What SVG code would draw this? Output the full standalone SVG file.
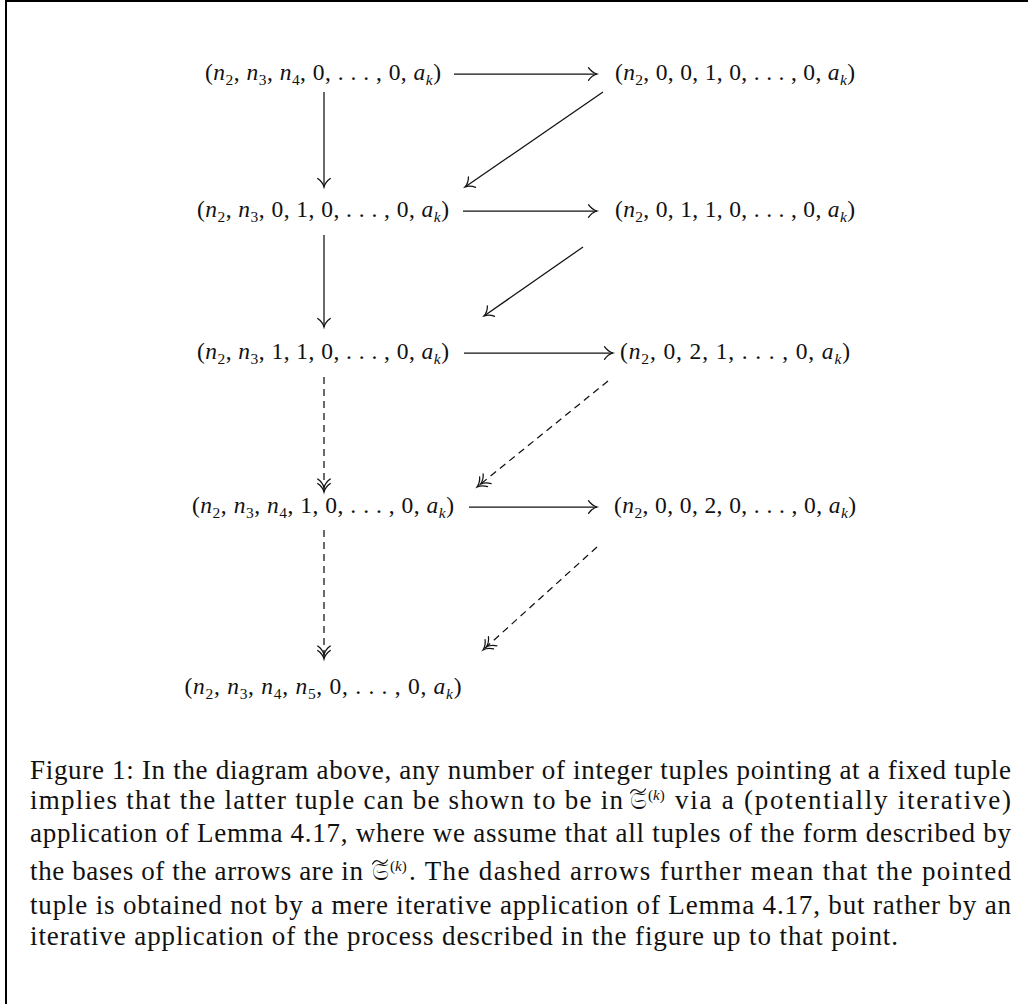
<svg xmlns="http://www.w3.org/2000/svg" width="1028" height="1004" viewBox="0 0 1028 1004">
<style>
.m{font-family:"Liberation Serif","DejaVu Serif",serif;font-size:23.5px;fill:#111}
.i{font-style:italic}
.s{font-size:15.5px}
.c{font-family:"Liberation Serif","DejaVu Serif",serif;font-size:27px;fill:#111}
.fr{font-family:"DejaVu Serif","DejaVu Sans","Noto Sans",serif;font-size:24px;fill:#111}
.sup{font-family:"Liberation Serif","DejaVu Serif",serif;font-size:15px}
.ln{fill:none;stroke:#111;stroke-width:1.25}
.d{stroke-dasharray:7 5}
.acc{fill:none;stroke:#111;stroke-width:1.2;stroke-linecap:round}
.frame{fill:none;stroke:#000;stroke-width:2}
</style>
<defs>
<marker id="to" markerUnits="userSpaceOnUse" viewBox="-12 -8 14 16" refX="0" refY="0" markerWidth="14" markerHeight="16" orient="auto" overflow="visible">
<path d="M-8.5,-6.3 C-6,-2.6 -2.6,-0.7 0,0 C-2.6,0.7 -6,2.6 -8.5,6.3" fill="none" stroke="#111" stroke-width="1.25" stroke-linecap="round" stroke-dasharray="none"/>
</marker>
<marker id="two" markerUnits="userSpaceOnUse" viewBox="-16 -8 18 16" refX="0" refY="0" markerWidth="18" markerHeight="16" orient="auto" overflow="visible">
<path d="M-8.5,-6.3 C-6,-2.6 -2.6,-0.7 0,0 C-2.6,0.7 -6,2.6 -8.5,6.3 M-13,-6.3 C-10.5,-2.6 -7.1,-0.7 -4.5,0 C-7.1,0.7 -10.5,2.6 -13,6.3" fill="none" stroke="#111" stroke-width="1.25" stroke-linecap="round" stroke-dasharray="none"/>
</marker>
</defs>
<rect width="1028" height="1004" fill="#fff"/>
<path class="frame" d="M6,1004 V1 H1028"/>

<g id="n-r1-left"><text class="m" x="323" y="80" text-anchor="middle" textLength="236" lengthAdjust="spacing">(<tspan class="i">n</tspan><tspan class="s" dy="4.5">2</tspan><tspan dy="-4.5">, </tspan><tspan class="i">n</tspan><tspan class="s" dy="4.5">3</tspan><tspan dy="-4.5">, </tspan><tspan class="i">n</tspan><tspan class="s" dy="4.5">4</tspan><tspan dy="-4.5">, 0, . . . , 0, </tspan><tspan class="i">a</tspan><tspan class="s i" dy="4.5">k</tspan><tspan dy="-4.5">)</tspan></text></g>
<g id="n-r1-right"><text class="m" x="735" y="80" text-anchor="middle" textLength="240" lengthAdjust="spacing">(<tspan class="i">n</tspan><tspan class="s" dy="4.5">2</tspan><tspan dy="-4.5">, 0, 0, 1, 0, . . . , 0, </tspan><tspan class="i">a</tspan><tspan class="s i" dy="4.5">k</tspan><tspan dy="-4.5">)</tspan></text></g>
<g id="n-r2-left"><text class="m" x="323" y="217" text-anchor="middle" textLength="252" lengthAdjust="spacing">(<tspan class="i">n</tspan><tspan class="s" dy="4.5">2</tspan><tspan dy="-4.5">, </tspan><tspan class="i">n</tspan><tspan class="s" dy="4.5">3</tspan><tspan dy="-4.5">, 0, 1, 0, . . . , 0, </tspan><tspan class="i">a</tspan><tspan class="s i" dy="4.5">k</tspan><tspan dy="-4.5">)</tspan></text></g>
<g id="n-r2-right"><text class="m" x="735" y="217" text-anchor="middle" textLength="240" lengthAdjust="spacing">(<tspan class="i">n</tspan><tspan class="s" dy="4.5">2</tspan><tspan dy="-4.5">, 0, 1, 1, 0, . . . , 0, </tspan><tspan class="i">a</tspan><tspan class="s i" dy="4.5">k</tspan><tspan dy="-4.5">)</tspan></text></g>
<g id="n-r3-left"><text class="m" x="323" y="359" text-anchor="middle" textLength="252" lengthAdjust="spacing">(<tspan class="i">n</tspan><tspan class="s" dy="4.5">2</tspan><tspan dy="-4.5">, </tspan><tspan class="i">n</tspan><tspan class="s" dy="4.5">3</tspan><tspan dy="-4.5">, 1, 1, 0, . . . , 0, </tspan><tspan class="i">a</tspan><tspan class="s i" dy="4.5">k</tspan><tspan dy="-4.5">)</tspan></text></g>
<g id="n-r3-right"><text class="m" x="735" y="359" text-anchor="middle" textLength="230" lengthAdjust="spacing">(<tspan class="i">n</tspan><tspan class="s" dy="4.5">2</tspan><tspan dy="-4.5">, 0, 2, 1, . . . , 0, </tspan><tspan class="i">a</tspan><tspan class="s i" dy="4.5">k</tspan><tspan dy="-4.5">)</tspan></text></g>
<g id="n-r4-left"><text class="m" x="323" y="513" text-anchor="middle" textLength="262" lengthAdjust="spacing">(<tspan class="i">n</tspan><tspan class="s" dy="4.5">2</tspan><tspan dy="-4.5">, </tspan><tspan class="i">n</tspan><tspan class="s" dy="4.5">3</tspan><tspan dy="-4.5">, </tspan><tspan class="i">n</tspan><tspan class="s" dy="4.5">4</tspan><tspan dy="-4.5">, 1, 0, . . . , 0, </tspan><tspan class="i">a</tspan><tspan class="s i" dy="4.5">k</tspan><tspan dy="-4.5">)</tspan></text></g>
<g id="n-r4-right"><text class="m" x="735" y="513" text-anchor="middle" textLength="242" lengthAdjust="spacing">(<tspan class="i">n</tspan><tspan class="s" dy="4.5">2</tspan><tspan dy="-4.5">, 0, 0, 2, 0, . . . , 0, </tspan><tspan class="i">a</tspan><tspan class="s i" dy="4.5">k</tspan><tspan dy="-4.5">)</tspan></text></g>
<g id="n-r5-left"><text class="m" x="323" y="694" text-anchor="middle" textLength="277" lengthAdjust="spacing">(<tspan class="i">n</tspan><tspan class="s" dy="4.5">2</tspan><tspan dy="-4.5">, </tspan><tspan class="i">n</tspan><tspan class="s" dy="4.5">3</tspan><tspan dy="-4.5">, </tspan><tspan class="i">n</tspan><tspan class="s" dy="4.5">4</tspan><tspan dy="-4.5">, </tspan><tspan class="i">n</tspan><tspan class="s" dy="4.5">5</tspan><tspan dy="-4.5">, 0, . . . , 0, </tspan><tspan class="i">a</tspan><tspan class="s i" dy="4.5">k</tspan><tspan dy="-4.5">)</tspan></text></g>

<g id="connectors">
<path class="ln" d="M454,74 H597" marker-end="url(#to)"/>
<path class="ln" d="M463,211 H597" marker-end="url(#to)"/>
<path class="ln" d="M464,353 H613" marker-end="url(#to)"/>
<path class="ln" d="M469,507 H597" marker-end="url(#to)"/>
<path class="ln" d="M324,92 V187" marker-end="url(#to)"/>
<path class="ln" d="M324,235 V327" marker-end="url(#to)"/>
<path class="ln d" d="M324,377 V492" marker-end="url(#two)"/>
<path class="ln d" d="M324,530 V659" marker-end="url(#two)"/>
<path class="ln" d="M603,92 L465,187" marker-end="url(#to)"/>
<path class="ln" d="M583,247 L484,316" marker-end="url(#to)"/>
<path class="ln d" d="M608,381 L477,487" marker-end="url(#two)"/>
<path class="ln d" d="M597,547 L483,650" marker-end="url(#two)"/>
</g>

<g id="caption">
<text class="c" x="30" y="779" textLength="981" lengthAdjust="spacing">Figure 1: In the diagram above, any number of integer tuples pointing at a fixed tuple</text>
<text class="c" x="30" y="809" textLength="593" lengthAdjust="spacing">implies that the latter tuple can be shown to be in</text>
<text class="fr" x="630" y="809">𝔖<tspan class="sup" dx="1" dy="-9">(<tspan class="i">k</tspan>)</tspan></text>
<path class="acc" d="M630.5,793 C633,788.5 635.5,789 638,791 C640.5,793 643,793.5 645.5,789"/>
<text class="c" x="675" y="809" textLength="336" lengthAdjust="spacing">via a (potentially iterative)</text>
<text class="c" x="30" y="842" textLength="981" lengthAdjust="spacing">application of Lemma 4.17, where we assume that all tuples of the form described by</text>
<text class="c" x="30" y="880" textLength="333" lengthAdjust="spacing">the bases of the arrows are in</text>
<text class="fr" x="372" y="880">𝔖<tspan class="sup" dx="1" dy="-9">(<tspan class="i">k</tspan>)</tspan></text>
<path class="acc" d="M372.5,864 C375,859.5 377.5,860 380,862 C382.5,864 385,864.5 387.5,860"/>
<text class="c" x="409" y="880" textLength="602" lengthAdjust="spacing">. The dashed arrows further mean that the pointed</text>
<text class="c" x="30" y="914" textLength="981" lengthAdjust="spacing">tuple is obtained not by a mere iterative application of Lemma 4.17, but rather by an</text>
<text class="c" x="30" y="945" textLength="868" lengthAdjust="spacing">iterative application of the process described in the figure up to that point.</text>
</g>
</svg>
